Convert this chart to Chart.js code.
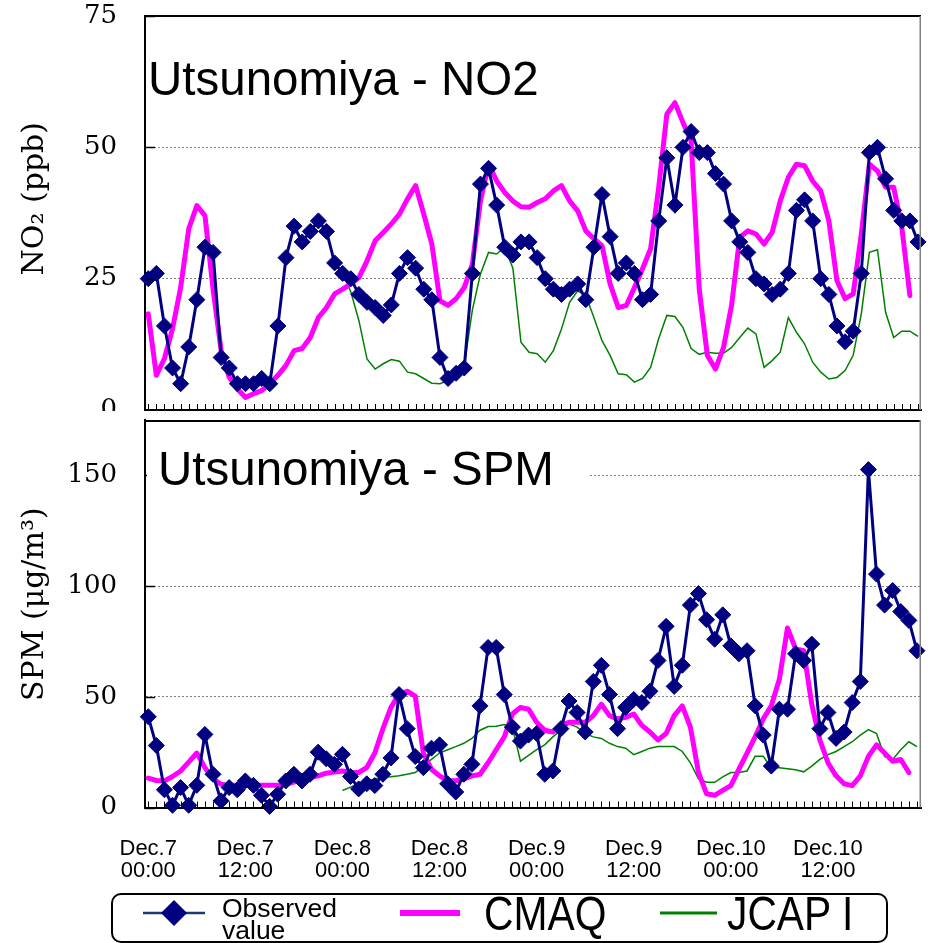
<!DOCTYPE html>
<html>
<head>
<meta charset="utf-8">
<script src="https://cdn.jsdelivr.net/npm/chart.js@4.4.1/dist/chart.umd.min.js"></script>
<style>
  html, body { margin: 0; padding: 0; background: #fff; width: 930px; height: 943px; overflow: hidden; position: relative; }
  canvas { position: absolute; left: 0; }
  #c1 { top: 0; }
  #c2 { top: 411px; }
  .lgbox { position: absolute; left: 111px; top: 893px; width: 773px; height: 46px; border: 2px solid #000; border-radius: 10px; background: #fff; }
  .lgtext { position: absolute; color: #000; white-space: nowrap; }
  .obs { left: 222px; top: 897px; font: 26.5px/22px "Liberation Sans", Arial, sans-serif; }
  .big { top: 890px; font: 48px/48px "Liberation Sans", Arial, sans-serif; transform: scaleX(0.85); transform-origin: 0 0; }
</style>
</head>
<body>
<canvas id="c1" width="930" height="430"></canvas>
<canvas id="c2" width="930" height="480"></canvas>

<div class="lgbox"></div>
<svg style="position:absolute;left:0;top:0" width="930" height="943">
  <line x1="143" y1="913" x2="205" y2="913" stroke="#1F3A6E" stroke-width="2.5"/>
  <polygon points="174,900 187,913 174,926 161,913" fill="#000080"/>
  <line x1="400" y1="913" x2="460" y2="913" stroke="#FF00FF" stroke-width="6"/>
  <line x1="660" y1="913" x2="717" y2="913" stroke="#008000" stroke-width="3"/>
</svg>
<div class="lgtext obs">Observed<br>value</div>
<div class="lgtext big" style="left:484px">CMAQ</div>
<div class="lgtext big" style="left:727px">JCAP I</div>

<script>
// ---------------- DATA ----------------
const HOURS = Array.from({length: 96}, (_, i) => i); // hourly index from Dec.7 00:00
const TICK_HOURS = [0, 12, 24, 36, 48, 60, 72, 84];
const TICK_LABELS = [
  ['Dec.7', '00:00'], ['Dec.7', '12:00'], ['Dec.8', '00:00'], ['Dec.8', '12:00'],
  ['Dec.9', '00:00'], ['Dec.9', '12:00'], ['Dec.10', '00:00'], ['Dec.10', '12:00']
];
const NO2_TICKS = [0, 25, 50, 75];
const SPM_TICKS = [0, 50, 100, 150];

const NO2_OBSERVED = [
  25, 26, 16, 8, 5, 12, 21, 31, 30, 10,
  8, 5, 5, 5, 6, 5, 16, 29, 35, 32,
  34, 36, 34, 28, 26, 25, 22, 20.5, 19.5, 18,
  20, 26, 29, 27, 23, 21, 10, 6, 7, 8,
  26, 43, 46, 39, 31, 29.5, 32, 32, 29, 25,
  23, 22, 23, 24, 21, 31, 41, 33, 26, 28,
  26, 21, 22, 36, 48, 39, 50, 53, 49, 49,
  45, 43, 36, 32, 30, 25, 24, 22, 23, 26,
  38, 40, 36, 25, 22, 16, 13, 15, 26, 49,
  50, 44, 38, 36, 36, 32
];
const NO2_CMAQ = [
  18.3, 6.6, 9.8, 15.5, 23.3, 34.5, 38.9, 37, 23, 11.3,
  6.2, 4, 2.4, 3.1, 3.7, 5, 6.6, 8.5, 11.3, 11.7,
  13.8, 17.6, 19.5, 22.1, 23, 24, 25.2, 28.4, 32.2, 33.8,
  35.4, 37.3, 40.2, 42.7, 37.3, 31.6, 20.8, 19.9, 21.2, 23.3,
  27.8, 39.8, 46.8, 43.6, 41.4, 39.8, 38.7, 38.6, 39.5, 40.2,
  41.7, 42.7, 39.8, 37.9, 34.1, 32.6, 31.3, 24, 19.5, 19.9,
  23.3, 26.9, 30.7, 42.4, 56.3, 58.5, 54.7, 51.2, 23, 10.4,
  7.8, 11.9, 20, 32.9, 34.1, 33.5, 31.6, 33.8, 39.8, 44.3,
  46.8, 46.5, 43.6, 41.7, 36, 24.6, 21.2, 22.1, 33.5, 46.8,
  45.5, 42.4, 42.4, 34.8, 21.8, null
];
const NO2_JCAP = [
  null, null, null, null, null, null, null, null, null, null,
  null, null, null, null, null, null, null, null, null, null,
  null, null, null, null, 26, 22.5, 17, 9.7, 7.8, 8.8,
  9.6, 9.3, 7.2, 6.9, 6, 5.1, 5, 5.6, 6.9, 8.5,
  19, 25.9, 30, 29.7, 31, 27, 12.9, 11, 10.7, 9.1,
  11.3, 15.4, 20.5, 22.7, 21.8, 17.6, 13.2, 10.4, 6.9, 6.7,
  5.3, 6, 8.1, 13.6, 18, 17.8, 15.7, 11.7, 10.6, 11,
  10.8, 10.8, 11.9, 13.8, 15.6, 14.5, 8.1, 9.4, 11, 17.6,
  14.8, 12.6, 9.1, 7.2, 5.9, 6.2, 7.5, 10.4, 18.3, 30,
  30.5, 18.6, 13.8, 15, 15, 14
];

const SPM_OBSERVED = [
  41, 28, 8, 1, 9, 1, 10, 33, 15, 3,
  9, 8, 12, 10, 5.5, 0.5, 6, 12, 15, 12,
  15, 25, 22, 19.5, 24, 14, 8.4, 10.7, 9.9, 15,
  22.4, 51, 35.6, 23, 18, 26.8, 28.3, 10.7, 7, 15,
  19.5, 45.9, 72.3, 72.3, 51, 36.3, 30, 32.7, 33.4, 15,
  16.5, 35.6, 48.1, 42.9, 34.1, 56.9, 64.2, 51, 35.6, 45.2,
  48.8, 47.4, 52.5, 66.4, 81.8, 54.7, 64.2, 91.4, 96.6, 84.8,
  76, 87, 73, 69.4, 70.8, 45.9, 32.7, 18.7, 44.4, 44.4,
  69.4, 66.4, 73.8, 35.6, 42.9, 31.2, 34.1, 47.4, 56.9, 152.6,
  105.4, 91.4, 98, 88.5, 84.5, 70.8
];
const SPM_CMAQ = [
  13.3, 12.2, 12, 14, 16.5, 20.5, 24.6, 18, 13, 10.5,
  10, 10, 10, 10, 10, 10, 10, 10.5, 11.5, 12.5,
  13.5, 14.3, 15.5, 16, 16.5, 15.8, 15.8, 18, 24.6, 35.6,
  45.2, 51.2, 52.5, 50.3, 24.6, 17.3, 14.3, 12.1, 12.1, 12.9,
  14.3, 15, 20.2, 26.1, 31.9, 42.2, 45.2, 44.4, 38.5, 34.9,
  34.1, 37.1, 38.5, 38.5, 38.5, 41.5, 46.6, 41.5, 40, 40.7,
  42.2, 37.1, 34.1, 30.5, 33.4, 41.5, 45.9, 36.3, 15.8, 6.2,
  5.5, 7.7, 9.9, 17.3, 24.6, 31.9, 40, 45.9, 58, 81.1,
  71.6, 70.8, 46.6, 30.5, 20.2, 14.3, 10.7, 9.9, 14.3, 23.1,
  28.3, 24.6, 20.9, 21.7, 15.8, null
];
const SPM_JCAP = [
  null, null, null, null, null, null, null, null, null, null,
  null, null, null, null, null, null, null, null, null, null,
  null, null, null, null, 7.7, 9.2, 10.7, 12.1, 12.9, 13.6,
  13.9, 14.3, 15, 15.8, 18.7, 21.7, 24.6, 26.1, 27.5, 29,
  31.2, 34.9, 36.6, 36.7, 37.5, 36.3, 20.9, 23.5, 26.1, 28.3,
  31.9, 34.9, 37.8, 36.3, 33.4, 31.9, 31.2, 29, 27.5, 26.8,
  23.9, 25.3, 26.8, 27.5, 27.5, 27.5, 25.3, 20.2, 12.9, 11.4,
  11.4, 13.8, 15.8, 15.8, 16.5, 23.1, 23.1, 18, 18, 17.5,
  17, 16.1, 18.7, 21.7, 23.9, 25.3, 27.5, 29.7, 32.7, 35.2,
  33.4, 23.1, 21.7, 26.1, 29.7, 27.5
];

// ---------------- RENDER ----------------
const toXY = arr => arr.map((v, i) => ({x: HOURS[i], y: v}));

const SERIF = '"DejaVu Serif", "Liberation Serif", serif';
const SANS = '"Liberation Sans", Arial, sans-serif';

const panelDecor = {
  id: 'panelDecor',
  beforeDraw(chart) {
    const ctx = chart.ctx;
    ctx.save();
    ctx.fillStyle = '#fff';
    ctx.fillRect(0, 0, chart.width, chart.height);
    ctx.restore();
  },
  afterDatasetsDraw(chart, args, o) {
    const {ctx, chartArea: a, scales: {x, y}} = chart;
    ctx.save();
    // inward y tick marks
    ctx.strokeStyle = '#000';
    ctx.lineWidth = 1.5;
    y.ticks.forEach(t => {
      const py = Math.round(y.getPixelForValue(t.value)) + 0.5;
      ctx.beginPath(); ctx.moveTo(a.left, py); ctx.lineTo(a.left + 10, py); ctx.stroke();
    });
    // inward hourly x tick marks
    ctx.lineWidth = 1;
    ctx.beginPath();
    HOURS.forEach(h => {
      const px = Math.round(x.getPixelForValue(h)) + 0.5;
      ctx.moveTo(px, a.bottom); ctx.lineTo(px, a.bottom - 6);
    });
    ctx.stroke();
    // frame: top and right
    ctx.strokeStyle = '#000';
    ctx.lineWidth = 2;
    ctx.beginPath(); ctx.moveTo(a.left, a.top + o.topLine); ctx.lineTo(a.right, a.top + o.topLine); ctx.stroke();
    ctx.strokeStyle = '#808080';
    ctx.lineWidth = 1.5;
    ctx.beginPath(); ctx.moveTo(a.right - 0.75, a.top); ctx.lineTo(a.right - 0.75, a.bottom); ctx.stroke();
    // panel title
    if (o.box) {
      ctx.fillStyle = '#fff';
      ctx.fillRect(o.box[0], o.box[1], o.box[2], o.box[3]);
    }
    ctx.fillStyle = '#000';
    ctx.font = '47.5px ' + SANS;
    ctx.textBaseline = 'alphabetic';
    ctx.textAlign = 'left';
    ctx.fillText(o.title, o.tx, o.ty);
    ctx.restore();
  }
};

function makePanel(canvasId, cfg) {
  const noPad = s => { s.paddingTop = 0; s.paddingBottom = 0; s.paddingLeft = 0; s.paddingRight = 0; };
  return new Chart(document.getElementById(canvasId), {
    type: 'line',
    data: {
      datasets: [
        {
          label: 'Observed value', data: toXY(cfg.obs),
          borderColor: '#000080', backgroundColor: '#000080', borderWidth: 3,
          pointStyle: 'rectRot', pointRadius: 8, pointBorderWidth: 1,
          pointBackgroundColor: '#000080', pointBorderColor: '#000080',
          clip: false, spanGaps: false
        },
        {
          label: 'CMAQ', data: toXY(cfg.cmaq),
          borderColor: '#FF00FF', borderWidth: 5, pointRadius: 0,
          borderJoinStyle: 'round', borderCapStyle: 'round', spanGaps: false
        },
        {
          label: 'JCAP I', data: toXY(cfg.jcap),
          borderColor: '#008000', borderWidth: 1.5, pointRadius: 0, spanGaps: false
        }
      ]
    },
    options: {
      responsive: false,
      animation: false,
      devicePixelRatio: 1,
      events: [],
      layout: {padding: cfg.padding},
      plugins: {
        legend: {display: false},
        tooltip: {enabled: false},
        panelDecor: cfg.decor
      },
      scales: {
        x: {
          type: 'linear', min: -0.4, max: cfg.xmax,
          afterBuildTicks: s => { s.ticks = cfg.showLabels ? TICK_HOURS.map(v => ({value: v})) : []; },
          ticks: {
            display: cfg.showLabels, autoSkip: false, maxRotation: 0, minRotation: 0,
            padding: 30, color: '#000',
            font: {family: SANS, size: 22, lineHeight: 1.0},
            callback: v => TICK_LABELS[TICK_HOURS.indexOf(v)]
          },
          grid: {display: false, drawTicks: false},
          border: {display: true, color: '#000', width: 2},
          afterFit: s => { s.height = cfg.xHeight; noPad(s); }
        },
        y: {
          type: 'linear', min: 0, max: cfg.ymax,
          afterBuildTicks: s => { s.ticks = cfg.yticks.map(v => ({value: v})); },
          ticks: {color: '#000', padding: 28, font: {family: SERIF, size: 26}},
          grid: {color: '#808080', lineWidth: 1, drawTicks: false},
          border: {display: true, color: '#000', width: 2, dash: [2, 2]},
          title: {
            display: true, text: cfg.ytitle, color: '#000',
            font: {family: SERIF, size: 30}, padding: {top: 17, bottom: 0}
          },
          afterFit: s => { s.width = 145; noPad(s); }
        }
      }
    },
    plugins: [panelDecor]
  });
}

makePanel('c1', {
  obs: NO2_OBSERVED, cmaq: NO2_CMAQ, jcap: NO2_JCAP,
  ymax: 75, yticks: NO2_TICKS, xmax: 95.37, xHeight: 20, showLabels: false,
  padding: {left: 0, right: 1, top: 16, bottom: 0},
  ytitle: '\u00a0\u00a0\u00a0NO\u2082 (ppb)',
  decor: {title: 'Utsunomiya - NO2', tx: 148, ty: 95, topLine: 0}
});

makePanel('c2', {
  obs: SPM_OBSERVED, cmaq: SPM_CMAQ, jcap: SPM_JCAP,
  ymax: 175, yticks: SPM_TICKS, xmax: 95.5, xHeight: 83.5, showLabels: true,
  padding: {left: 0, right: 4, top: 0, bottom: 0},
  ytitle: '\u00a0\u00a0SPM (\u03bcg/m\u00b3)',
  decor: {title: 'Utsunomiya - SPM', tx: 158, ty: 74, topLine: 1, box: [147, 30, 442, 52]}
});
</script>
</body>
</html>
